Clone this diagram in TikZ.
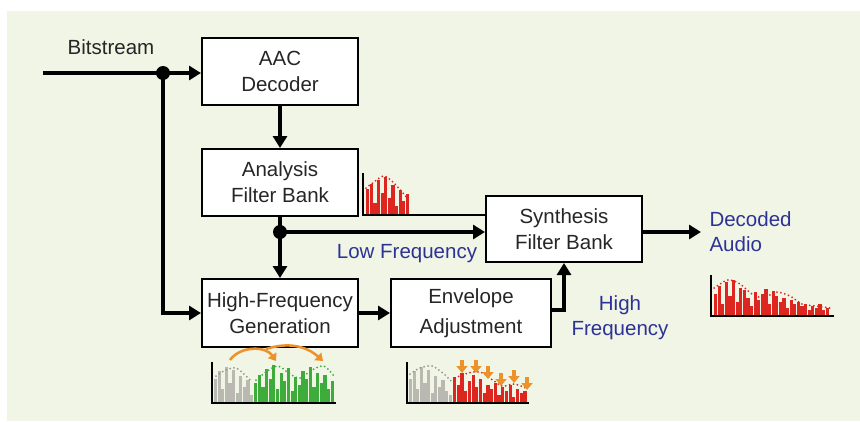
\documentclass[tikz,border=0pt]{standalone}
\usepackage{fontspec}
\setmainfont{Liberation Sans}
\usetikzlibrary{positioning,arrows.meta}

\definecolor{panelbg}{RGB}{240,245,229}
\definecolor{labelblue}{RGB}{45,50,150}
\definecolor{barred}{RGB}{222,38,32}
\definecolor{bargreen}{RGB}{62,172,58}
\definecolor{bargray}{RGB}{185,185,178}
\definecolor{hintorange}{RGB}{236,146,40}

\tikzset{
  block/.style={draw, line width=2pt, fill=white, minimum width=156pt, minimum height=67pt,
    align=center, text=black!85, font=\fontsize{20.5}{26}\selectfont},
  flow/.style={->, line width=4.3pt},
  lbl/.style={text=labelblue, align=center, font=\fontsize{20.5}{25}\selectfont},
  axis/.style={line width=1.6pt},
  envdots/.style={dash pattern=on 0pt off 4pt, line cap=round, line width=2pt},
  hint/.style={->, hintorange, line width=2.5pt, >={Triangle[length=7pt,width=10pt]}}
}

\begin{document}
\begin{tikzpicture}[x=1pt, y=-1pt, >={Triangle[length=12pt,width=14pt]}]
    \useasboundingbox (0,0) rectangle (860,421);
    \fill[panelbg] (7,11) rectangle (860,421);

    \node[block] (aac) at (280,71.5) {AAC\\Decoder};
    \node[block, below of=aac, node distance=111pt] (analysis) {Analysis\\Filter Bank};
    \node[block, below of=analysis, node distance=130.5pt, minimum height=68pt] (hfg) {High-Frequency\\Generation};
    \node[block, right of=hfg, node distance=191pt, minimum width=160pt, minimum height=68pt,
      font=\fontsize{20.5}{30}\selectfont] (envelope) {Envelope\\Adjustment};
    \node[block, minimum height=66pt] (synth) at (564,229) {Synthesis\\Filter Bank};

    \node[lbl, text=black!85] (bitlabel) at (111,47) {Bitstream};
    \node[lbl] (lowlabel) at (407,254) {Low Frequency};
    \node[lbl] (highlabel) at (620,318) {High\\Frequency};
    \node[lbl, align=left, anchor=west] (outlabel) at (706,232) {Decoded\\Audio};

    \coordinate (bitin) at (43,73);
    \coordinate (split) at (163,73);
    \coordinate (lowsplit) at (280,232);
    \coordinate (outend) at (701,232);

    \draw[flow] (bitin) -- (bitin -| aac.west);
    \draw[flow] (split) |- (hfg.west);
    \fill (split) circle (7);
    \draw[flow] (aac) -- (analysis);
    \draw[line width=4.3pt] (analysis.south) -- (lowsplit);
    \draw[flow] (lowsplit) -- (hfg);
    \draw[flow] (lowsplit) -- (lowsplit -| synth.west);
    \fill (lowsplit) circle (7);
    \draw[flow] (hfg) -- (envelope);
    \draw[flow] ([yshift=3pt]envelope.east) -| (synth.south);
    \draw[flow] (synth.east |- lowsplit) -- (outend);

    % spectrum after analysis
    \foreach \h [count=\i] in {26,31,12,35,22,38,17,30,9,25,14,21}
      \fill[barred] (362.5+3.6*\i,215) rectangle ++(3.2,-\h);
    \draw[barred, envdots] plot[smooth] coordinates {(366,188) (374,182) (384,176) (394,183) (402,192) (408,199)};
    \draw[axis] (363,173) -- (363,215) -- (synth.west |- 363,215);

    % spectrum after HF generation
    \foreach \h [count=\i] in {24,32,14,36,20,33,10,27,16,23,8}
      \fill[bargray] (210.4+3.6*\i,403) rectangle ++(3.2,-\h);
    \foreach \h [count=\i] in {20,28,16,34,24,38,14,30,22,35,12,26,18,32,24,36,16,30,20,28,14,22}
      \fill[bargreen] (250.35+3.65*\i,403) rectangle ++(3.2,-\h);
    \draw[bargray!80!black, envdots] plot[smooth] coordinates {(216,376) (226,370) (236,368) (246,376) (252,382)};
    \draw[bargreen, envdots] plot[smooth] coordinates {(256,380) (266,372) (278,366) (290,374) (300,378) (312,370) (324,366) (334,376)};
    \draw[hint] (230,360) to[bend left=55] (276,361);
    \draw[hint] (266,349) to[bend left=30] (323,361);
    \draw[axis] (212,362) -- (212,403) -- (336,403);

    % spectrum after envelope adjustment
    \foreach \h [count=\i] in {24,32,14,36,20,33,10,27,16,23,12,8}
      \fill[bargray] (405.4+3.6*\i,403) rectangle ++(3.2,-\h);
    \foreach \h [count=\i] in {26,18,30,12,22,28,16,24,10,18,14,20,8,16,12,18,6,14,10,12}
      \fill[barred] (449.3+3.7*\i,403) rectangle ++(3.2,-\h);
    \draw[bargray!80!black, envdots] plot[smooth] coordinates {(410,374) (420,368) (432,366) (444,374) (452,382)};
    \draw[barred, envdots] plot[smooth] coordinates {(455,378) (468,373) (480,372) (490,378) (502,386) (514,384) (526,388)};
    \foreach \x/\y in {462/360,476/360,488/366,501/373,514/370,527/377}
      \draw[hint, line width=4pt, >={Triangle[length=7pt,width=11pt]}] (\x,\y) -- ++(0,13);
    \draw[axis] (407,362) -- (407,403) -- (529,403);

    % decoded audio spectrum
    \foreach \h [count=\i] in {22,30,12,34,20,36,14,28,26,18,10,24,16,22,27,12,25,20,14,18,8,16,12,14,10,12,6,10,8,12,6,8}
      \fill[barred] (710.4+3.6*\i,316) rectangle ++(3.2,-\h);
    \draw[barred, envdots] plot[smooth] coordinates {(714,288) (728,280) (740,284) (752,294) (764,298) (776,292) (790,296) (802,304) (816,306) (830,308)};
    \draw[axis] (711,275) -- (711,316) -- (834,316);
\end{tikzpicture}
\end{document}
